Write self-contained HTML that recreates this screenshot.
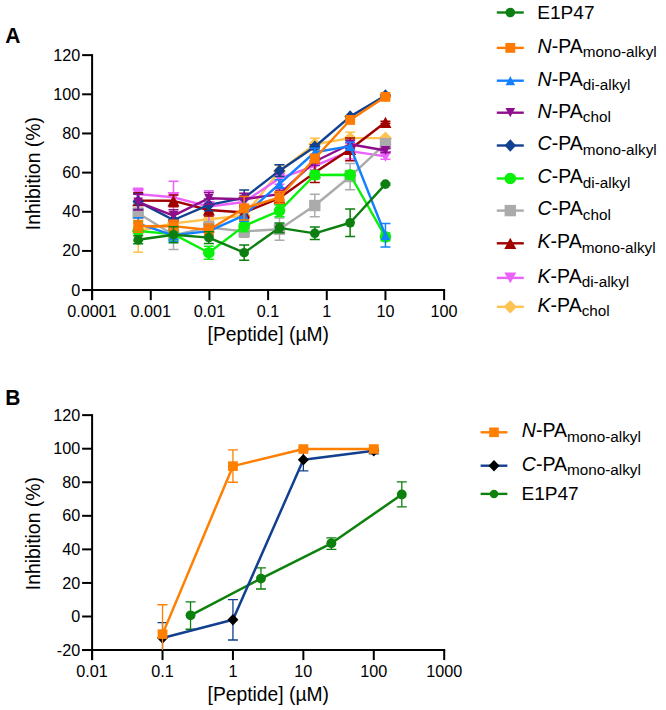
<!DOCTYPE html>
<html><head><meta charset="utf-8"><style>
html,body{margin:0;padding:0;background:#fff;}
body{width:666px;height:710px;position:relative;overflow:hidden;font-family:"Liberation Sans", sans-serif;}
</style></head><body>
<svg width="666" height="710" viewBox="0 0 666 710" style="position:absolute;left:0;top:0">
<rect width="666" height="710" fill="#fff"/>
<g stroke="#000" stroke-width="2" fill="none" stroke-linecap="butt">
<line x1="92.1" y1="54.140000000000015" x2="92.1" y2="300.1"/>
<line x1="82.1" y1="290.1" x2="445.12" y2="290.1"/>
<line x1="82.1" y1="290.10" x2="92.1" y2="290.10"/>
<line x1="82.1" y1="250.94" x2="92.1" y2="250.94"/>
<line x1="82.1" y1="211.78" x2="92.1" y2="211.78"/>
<line x1="82.1" y1="172.62" x2="92.1" y2="172.62"/>
<line x1="82.1" y1="133.46" x2="92.1" y2="133.46"/>
<line x1="82.1" y1="94.30" x2="92.1" y2="94.30"/>
<line x1="82.1" y1="55.14" x2="92.1" y2="55.14"/>
<line x1="92.10" y1="290.1" x2="92.10" y2="300.1"/>
<line x1="150.77" y1="290.1" x2="150.77" y2="300.1"/>
<line x1="209.44" y1="290.1" x2="209.44" y2="300.1"/>
<line x1="268.11" y1="290.1" x2="268.11" y2="300.1"/>
<line x1="326.78" y1="290.1" x2="326.78" y2="300.1"/>
<line x1="385.45" y1="290.1" x2="385.45" y2="300.1"/>
<line x1="444.12" y1="290.1" x2="444.12" y2="300.1"/>
</g>
<g font-family='"Liberation Sans", sans-serif' font-size="16.2" fill="#000">
<text x="80.2" y="295.50" text-anchor="end">0</text>
<text x="80.2" y="256.34" text-anchor="end">20</text>
<text x="80.2" y="217.18" text-anchor="end">40</text>
<text x="80.2" y="178.02" text-anchor="end">60</text>
<text x="80.2" y="138.86" text-anchor="end">80</text>
<text x="80.2" y="99.70" text-anchor="end">100</text>
<text x="80.2" y="60.54" text-anchor="end">120</text>
<text x="92.10" y="316.6" text-anchor="middle">0.0001</text>
<text x="150.77" y="316.6" text-anchor="middle">0.001</text>
<text x="209.44" y="316.6" text-anchor="middle">0.01</text>
<text x="268.11" y="316.6" text-anchor="middle">0.1</text>
<text x="326.78" y="316.6" text-anchor="middle">1</text>
<text x="385.45" y="316.6" text-anchor="middle">10</text>
<text x="444.12" y="316.6" text-anchor="middle">100</text>
</g>
<g stroke="#000" stroke-width="2" fill="none" stroke-linecap="butt">
<line x1="92.1" y1="414.14" x2="92.1" y2="660.06"/>
<line x1="82.1" y1="650.06" x2="445.20000000000005" y2="650.06"/>
<line x1="82.1" y1="650.06" x2="92.1" y2="650.06"/>
<line x1="82.1" y1="616.50" x2="92.1" y2="616.50"/>
<line x1="82.1" y1="582.94" x2="92.1" y2="582.94"/>
<line x1="82.1" y1="549.38" x2="92.1" y2="549.38"/>
<line x1="82.1" y1="515.82" x2="92.1" y2="515.82"/>
<line x1="82.1" y1="482.26" x2="92.1" y2="482.26"/>
<line x1="82.1" y1="448.70" x2="92.1" y2="448.70"/>
<line x1="82.1" y1="415.14" x2="92.1" y2="415.14"/>
<line x1="92.10" y1="650.06" x2="92.10" y2="660.06"/>
<line x1="162.52" y1="650.06" x2="162.52" y2="660.06"/>
<line x1="232.94" y1="650.06" x2="232.94" y2="660.06"/>
<line x1="303.36" y1="650.06" x2="303.36" y2="660.06"/>
<line x1="373.78" y1="650.06" x2="373.78" y2="660.06"/>
<line x1="444.20" y1="650.06" x2="444.20" y2="660.06"/>
</g>
<g font-family='"Liberation Sans", sans-serif' font-size="16.2" fill="#000">
<text x="80.2" y="655.66" text-anchor="end">-20</text>
<text x="80.2" y="622.10" text-anchor="end">0</text>
<text x="80.2" y="588.54" text-anchor="end">20</text>
<text x="80.2" y="554.98" text-anchor="end">40</text>
<text x="80.2" y="521.42" text-anchor="end">60</text>
<text x="80.2" y="487.86" text-anchor="end">80</text>
<text x="80.2" y="454.30" text-anchor="end">100</text>
<text x="80.2" y="420.74" text-anchor="end">120</text>
<text x="92.10" y="677.3" text-anchor="middle">0.01</text>
<text x="162.52" y="677.3" text-anchor="middle">0.1</text>
<text x="232.94" y="677.3" text-anchor="middle">1</text>
<text x="303.36" y="677.3" text-anchor="middle">10</text>
<text x="373.78" y="677.3" text-anchor="middle">100</text>
<text x="444.20" y="677.3" text-anchor="middle">1000</text>
</g>
<text transform="translate(5.2,42.7) scale(1,1.06)" font-family='"Liberation Sans", sans-serif' font-weight="bold" font-size="21">A</text>
<text transform="translate(5.2,404.7) scale(1,1.04)" font-family='"Liberation Sans", sans-serif' font-weight="bold" font-size="21">B</text>
<text transform="translate(39.8,173.6) rotate(-90)" text-anchor="middle" font-family='"Liberation Sans", sans-serif' font-size="19.4">Inhibition (%)</text>
<text transform="translate(39.8,533.6) rotate(-90)" text-anchor="middle" font-family='"Liberation Sans", sans-serif' font-size="19.4">Inhibition (%)</text>
<text x="268.3" y="340.9" text-anchor="middle" font-family='"Liberation Sans", sans-serif' font-size="19.3">[Peptide] (µM)</text>
<text x="268.3" y="700.8" text-anchor="middle" font-family='"Liberation Sans", sans-serif' font-size="19.3">[Peptide] (µM)</text>
<g>
<path d="M138.19 209.63V252.31M133.19 209.63H143.19M133.19 252.31H143.19M173.51 211.58V235.08M168.51 211.58H178.51M168.51 235.08H178.51M208.84 213.35V225.09M203.84 213.35H213.84M203.84 225.09H213.84M244.16 209.82V221.57M239.16 209.82H249.16M239.16 221.57H249.16M279.48 165.38V177.12M274.48 165.38H284.48M274.48 177.12H284.48M314.80 138.36V150.10M309.80 138.36H319.80M309.80 150.10H319.80M350.13 132.29V144.03M345.13 132.29H355.13M345.13 144.03H355.13M385.45 137.18V139.14M380.45 137.18H390.45M380.45 139.14H390.45" stroke="#fdc350" stroke-width="1.5" fill="none"/>
<polyline points="138.19,230.97 173.51,223.33 208.84,219.22 244.16,215.70 279.48,171.25 314.80,144.23 350.13,138.16 385.45,138.16" stroke="#fdc350" stroke-width="2.4" fill="none" stroke-linejoin="round"/>
<polygon points="138.19,224.32 144.84,230.97 138.19,237.62 131.54,230.97" fill="#fdc350"/>
<polygon points="173.51,216.68 180.16,223.33 173.51,229.98 166.86,223.33" fill="#fdc350"/>
<polygon points="208.84,212.57 215.49,219.22 208.84,225.87 202.19,219.22" fill="#fdc350"/>
<polygon points="244.16,209.05 250.81,215.70 244.16,222.35 237.51,215.70" fill="#fdc350"/>
<polygon points="279.48,164.60 286.13,171.25 279.48,177.90 272.83,171.25" fill="#fdc350"/>
<polygon points="314.80,137.58 321.45,144.23 314.80,150.88 308.15,144.23" fill="#fdc350"/>
<polygon points="350.13,131.51 356.78,138.16 350.13,144.81 343.48,138.16" fill="#fdc350"/>
<polygon points="385.45,131.51 392.10,138.16 385.45,144.81 378.80,138.16" fill="#fdc350"/>
</g>
<g>
<path d="M138.19 188.28V200.03M133.19 188.28H143.19M133.19 200.03H143.19M173.51 181.24V213.35M168.51 181.24H178.51M168.51 213.35H178.51M208.84 190.83V222.16M203.84 190.83H213.84M203.84 222.16H213.84M244.16 196.12V207.86M239.16 196.12H249.16M239.16 207.86H249.16M279.48 172.42V184.17M274.48 172.42H284.48M274.48 184.17H284.48M314.80 161.85V169.68M309.80 161.85H319.80M309.80 169.68H319.80M350.13 143.25V158.91M345.13 143.25H355.13M345.13 158.91H355.13M385.45 153.43V159.31M380.45 153.43H390.45M380.45 159.31H390.45" stroke="#ea62fb" stroke-width="1.5" fill="none"/>
<polyline points="138.19,194.16 173.51,197.29 208.84,206.49 244.16,201.99 279.48,178.30 314.80,165.77 350.13,151.08 385.45,156.37" stroke="#ea62fb" stroke-width="2.4" fill="none" stroke-linejoin="round"/>
<polygon points="138.19,199.56 144.19,188.76 132.19,188.76" fill="#ea62fb"/>
<polygon points="173.51,202.69 179.51,191.89 167.51,191.89" fill="#ea62fb"/>
<polygon points="208.84,211.89 214.84,201.09 202.84,201.09" fill="#ea62fb"/>
<polygon points="244.16,207.39 250.16,196.59 238.16,196.59" fill="#ea62fb"/>
<polygon points="279.48,183.70 285.48,172.90 273.48,172.90" fill="#ea62fb"/>
<polygon points="314.80,171.17 320.80,160.37 308.80,160.37" fill="#ea62fb"/>
<polygon points="350.13,156.48 356.13,145.68 344.13,145.68" fill="#ea62fb"/>
<polygon points="385.45,161.77 391.45,150.97 379.45,150.97" fill="#ea62fb"/>
</g>
<g>
<path d="M138.19 192.79V208.45M133.19 192.79H143.19M133.19 208.45H143.19M173.51 194.94V206.69M168.51 194.94H178.51M168.51 206.69H178.51M208.84 204.14V215.89M203.84 204.14H213.84M203.84 215.89H213.84M244.16 206.69V218.44M239.16 206.69H249.16M239.16 218.44H249.16M279.48 192.20V203.95M274.48 192.20H284.48M274.48 203.95H284.48M314.80 162.83V182.41M309.80 162.83H319.80M309.80 182.41H319.80M350.13 137.96V160.68M345.13 137.96H355.13M345.13 160.68H355.13M385.45 121.32V123.28M380.45 121.32H390.45M380.45 123.28H390.45" stroke="#a00000" stroke-width="1.5" fill="none"/>
<polyline points="138.19,200.62 173.51,200.82 208.84,210.02 244.16,212.56 279.48,198.07 314.80,172.62 350.13,149.32 385.45,122.30" stroke="#a00000" stroke-width="2.4" fill="none" stroke-linejoin="round"/>
<polygon points="138.19,195.02 144.19,206.22 132.19,206.22" fill="#a00000"/>
<polygon points="173.51,195.22 179.51,206.42 167.51,206.42" fill="#a00000"/>
<polygon points="208.84,204.42 214.84,215.62 202.84,215.62" fill="#a00000"/>
<polygon points="244.16,206.96 250.16,218.16 238.16,218.16" fill="#a00000"/>
<polygon points="279.48,192.47 285.48,203.67 273.48,203.67" fill="#a00000"/>
<polygon points="314.80,167.02 320.80,178.22 308.80,178.22" fill="#a00000"/>
<polygon points="350.13,143.72 356.13,154.92 344.13,154.92" fill="#a00000"/>
<polygon points="385.45,116.70 391.45,127.90 379.45,127.90" fill="#a00000"/>
</g>
<g>
<path d="M138.19 203.56V223.14M133.19 203.56H143.19M133.19 223.14H143.19M173.51 220.59V249.57M168.51 220.59H178.51M168.51 249.57H178.51M208.84 221.57V233.32M203.84 221.57H213.84M203.84 233.32H213.84M244.16 225.49V237.23M239.16 225.49H249.16M239.16 237.23H249.16M279.48 218.05V240.37M274.48 218.05H284.48M274.48 240.37H284.48M314.80 194.16V216.87M309.80 194.16H319.80M309.80 216.87H319.80M350.13 163.42V189.65M345.13 163.42H355.13M345.13 189.65H355.13M385.45 140.70V146.58M380.45 140.70H390.45M380.45 146.58H390.45" stroke="#ababab" stroke-width="1.5" fill="none"/>
<polyline points="138.19,213.35 173.51,235.08 208.84,227.44 244.16,231.36 279.48,229.21 314.80,205.51 350.13,176.54 385.45,143.64" stroke="#ababab" stroke-width="2.4" fill="none" stroke-linejoin="round"/>
<rect x="132.49" y="207.65" width="11.40" height="11.40" fill="#ababab"/>
<rect x="167.81" y="229.38" width="11.40" height="11.40" fill="#ababab"/>
<rect x="203.14" y="221.74" width="11.40" height="11.40" fill="#ababab"/>
<rect x="238.46" y="225.66" width="11.40" height="11.40" fill="#ababab"/>
<rect x="273.78" y="223.51" width="11.40" height="11.40" fill="#ababab"/>
<rect x="309.10" y="199.81" width="11.40" height="11.40" fill="#ababab"/>
<rect x="344.43" y="170.84" width="11.40" height="11.40" fill="#ababab"/>
<rect x="379.75" y="137.94" width="11.40" height="11.40" fill="#ababab"/>
</g>
<g>
<path d="M138.19 221.18V240.76M133.19 221.18H143.19M133.19 240.76H143.19M173.51 228.23V239.98M168.51 228.23H178.51M168.51 239.98H178.51M208.84 246.24V259.16M203.84 246.24H213.84M203.84 259.16H213.84M244.16 220.00V231.75M239.16 220.00H249.16M239.16 231.75H249.16M279.48 204.93V216.68M274.48 204.93H284.48M274.48 216.68H284.48M314.80 171.05V178.89M309.80 171.05H319.80M309.80 178.89H319.80M350.13 170.86V178.69M345.13 170.86H355.13M345.13 178.69H355.13M385.45 232.93V240.76M380.45 232.93H390.45M380.45 240.76H390.45" stroke="#0af00a" stroke-width="1.5" fill="none"/>
<polyline points="138.19,230.97 173.51,234.10 208.84,252.70 244.16,225.88 279.48,210.80 314.80,174.97 350.13,174.77 385.45,236.84" stroke="#0af00a" stroke-width="2.4" fill="none" stroke-linejoin="round"/>
<ellipse cx="138.19" cy="230.97" rx="5.80" ry="5.80" fill="#0af00a"/>
<ellipse cx="173.51" cy="234.10" rx="5.80" ry="5.80" fill="#0af00a"/>
<ellipse cx="208.84" cy="252.70" rx="5.80" ry="5.80" fill="#0af00a"/>
<ellipse cx="244.16" cy="225.88" rx="5.80" ry="5.80" fill="#0af00a"/>
<ellipse cx="279.48" cy="210.80" rx="5.80" ry="5.80" fill="#0af00a"/>
<ellipse cx="314.80" cy="174.97" rx="5.80" ry="5.80" fill="#0af00a"/>
<ellipse cx="350.13" cy="174.77" rx="5.80" ry="5.80" fill="#0af00a"/>
<ellipse cx="385.45" cy="236.84" rx="5.80" ry="5.80" fill="#0af00a"/>
</g>
<g>
<path d="M138.19 193.77V209.43M133.19 193.77H143.19M133.19 209.43H143.19M173.51 214.13V225.88M168.51 214.13H178.51M168.51 225.88H178.51M208.84 199.05V210.80M203.84 199.05H213.84M203.84 210.80H213.84M244.16 190.05V205.71M239.16 190.05H249.16M239.16 205.71H249.16M279.48 164.79V176.54M274.48 164.79H284.48M274.48 176.54H284.48M314.80 144.82V148.73M309.80 144.82H319.80M309.80 148.73H319.80M350.13 115.64V117.60M345.13 115.64H355.13M345.13 117.60H355.13M385.45 94.50V96.45M380.45 94.50H390.45M380.45 96.45H390.45" stroke="#11418f" stroke-width="1.5" fill="none"/>
<polyline points="138.19,201.60 173.51,220.00 208.84,204.93 244.16,197.88 279.48,170.66 314.80,146.77 350.13,116.62 385.45,95.47" stroke="#11418f" stroke-width="2.4" fill="none" stroke-linejoin="round"/>
<polygon points="138.19,195.35 143.94,201.60 138.19,207.85 132.44,201.60" fill="#11418f"/>
<polygon points="173.51,213.75 179.26,220.00 173.51,226.25 167.76,220.00" fill="#11418f"/>
<polygon points="208.84,198.68 214.59,204.93 208.84,211.18 203.09,204.93" fill="#11418f"/>
<polygon points="244.16,191.63 249.91,197.88 244.16,204.13 238.41,197.88" fill="#11418f"/>
<polygon points="279.48,164.41 285.23,170.66 279.48,176.91 273.73,170.66" fill="#11418f"/>
<polygon points="314.80,140.52 320.55,146.77 314.80,153.02 309.05,146.77" fill="#11418f"/>
<polygon points="350.13,110.37 355.88,116.62 350.13,122.87 344.38,116.62" fill="#11418f"/>
<polygon points="385.45,89.22 391.20,95.47 385.45,101.72 379.70,95.47" fill="#11418f"/>
</g>
<g>
<path d="M138.19 194.35V210.02M133.19 194.35H143.19M133.19 210.02H143.19M173.51 209.82V221.57M168.51 209.82H178.51M168.51 221.57H178.51M208.84 192.40V204.14M203.84 192.40H213.84M203.84 204.14H213.84M244.16 193.37V205.12M239.16 193.37H249.16M239.16 205.12H249.16M279.48 188.28V200.03M274.48 188.28H284.48M274.48 200.03H284.48M314.80 157.54V165.38M309.80 157.54H319.80M309.80 165.38H319.80M350.13 140.31V148.15M345.13 140.31H355.13M345.13 148.15H355.13M385.45 148.54V152.45M380.45 148.54H390.45M380.45 152.45H390.45" stroke="#8e0e8e" stroke-width="1.5" fill="none"/>
<polyline points="138.19,202.19 173.51,215.70 208.84,198.27 244.16,199.25 279.48,194.16 314.80,161.46 350.13,144.23 385.45,150.49" stroke="#8e0e8e" stroke-width="2.4" fill="none" stroke-linejoin="round"/>
<polygon points="138.19,206.79 142.99,197.59 133.39,197.59" fill="#8e0e8e"/>
<polygon points="173.51,220.30 178.31,211.10 168.71,211.10" fill="#8e0e8e"/>
<polygon points="208.84,202.87 213.64,193.67 204.04,193.67" fill="#8e0e8e"/>
<polygon points="244.16,203.85 248.96,194.65 239.36,194.65" fill="#8e0e8e"/>
<polygon points="279.48,198.76 284.28,189.56 274.68,189.56" fill="#8e0e8e"/>
<polygon points="314.80,166.06 319.60,156.86 310.00,156.86" fill="#8e0e8e"/>
<polygon points="350.13,148.83 354.93,139.63 345.33,139.63" fill="#8e0e8e"/>
<polygon points="385.45,155.09 390.25,145.89 380.65,145.89" fill="#8e0e8e"/>
</g>
<g>
<path d="M138.19 217.85V229.60M133.19 217.85H143.19M133.19 229.60H143.19M173.51 229.40V241.15M168.51 229.40H178.51M168.51 241.15H178.51M208.84 225.29V237.04M203.84 225.29H213.84M203.84 237.04H213.84M244.16 209.43V221.18M239.16 209.43H249.16M239.16 221.18H249.16M279.48 179.86V187.70M274.48 179.86H284.48M274.48 187.70H284.48M314.80 148.34V156.17M309.80 148.34H319.80M309.80 156.17H319.80M350.13 142.27V150.10M345.13 142.27H355.13M345.13 150.10H355.13M385.45 223.53V247.02M380.45 223.53H390.45M380.45 247.02H390.45" stroke="#1480ff" stroke-width="1.5" fill="none"/>
<polyline points="138.19,223.72 173.51,235.28 208.84,231.16 244.16,215.30 279.48,183.78 314.80,152.26 350.13,146.19 385.45,235.28" stroke="#1480ff" stroke-width="2.4" fill="none" stroke-linejoin="round"/>
<polygon points="138.19,219.07 142.99,228.37 133.39,228.37" fill="#1480ff"/>
<polygon points="173.51,230.63 178.31,239.93 168.71,239.93" fill="#1480ff"/>
<polygon points="208.84,226.51 213.64,235.81 204.04,235.81" fill="#1480ff"/>
<polygon points="244.16,210.65 248.96,219.95 239.36,219.95" fill="#1480ff"/>
<polygon points="279.48,179.13 284.28,188.43 274.68,188.43" fill="#1480ff"/>
<polygon points="314.80,147.61 319.60,156.91 310.00,156.91" fill="#1480ff"/>
<polygon points="350.13,141.54 354.93,150.84 345.33,150.84" fill="#1480ff"/>
<polygon points="385.45,230.63 390.25,239.93 380.65,239.93" fill="#1480ff"/>
</g>
<g>
<path d="M138.19 220.40V232.14M133.19 220.40H143.19M133.19 232.14H143.19M173.51 220.20V231.95M168.51 220.20H178.51M168.51 231.95H178.51M208.84 224.12V235.86M203.84 224.12H213.84M203.84 235.86H213.84M244.16 196.51V220.00M239.16 196.51H249.16M239.16 220.00H249.16M279.48 191.42V203.16M274.48 191.42H284.48M274.48 203.16H284.48M314.80 154.61V162.44M309.80 154.61H319.80M309.80 162.44H319.80M350.13 117.99V121.91M345.13 117.99H355.13M345.13 121.91H355.13M385.45 95.87V97.82M380.45 95.87H390.45M380.45 97.82H390.45" stroke="#ff7a00" stroke-width="1.5" fill="none"/>
<polyline points="138.19,226.27 173.51,226.07 208.84,229.99 244.16,208.26 279.48,197.29 314.80,158.52 350.13,119.95 385.45,96.85" stroke="#ff7a00" stroke-width="2.4" fill="none" stroke-linejoin="round"/>
<rect x="133.29" y="221.37" width="9.80" height="9.80" fill="#ff7a00"/>
<rect x="168.61" y="221.17" width="9.80" height="9.80" fill="#ff7a00"/>
<rect x="203.94" y="225.09" width="9.80" height="9.80" fill="#ff7a00"/>
<rect x="239.26" y="203.36" width="9.80" height="9.80" fill="#ff7a00"/>
<rect x="274.58" y="192.39" width="9.80" height="9.80" fill="#ff7a00"/>
<rect x="309.90" y="153.62" width="9.80" height="9.80" fill="#ff7a00"/>
<rect x="345.23" y="115.05" width="9.80" height="9.80" fill="#ff7a00"/>
<rect x="380.55" y="91.95" width="9.80" height="9.80" fill="#ff7a00"/>
</g>
<g>
<path d="M138.19 235.86V243.70M133.19 235.86H143.19M133.19 243.70H143.19M173.51 226.66V242.72M168.51 226.66H178.51M168.51 242.72H178.51M208.84 231.75V243.50M203.84 231.75H213.84M203.84 243.50H213.84M244.16 245.07V260.34M239.16 245.07H249.16M239.16 260.34H249.16M279.48 222.94V232.73M274.48 222.94H284.48M274.48 232.73H284.48M314.80 227.05V239.58M309.80 227.05H319.80M309.80 239.58H319.80M350.13 209.04V236.45M345.13 209.04H355.13M345.13 236.45H355.13M385.45 183.19V185.15M380.45 183.19H390.45M380.45 185.15H390.45" stroke="#0d7f10" stroke-width="1.5" fill="none"/>
<polyline points="138.19,239.78 173.51,234.69 208.84,237.63 244.16,252.70 279.48,227.84 314.80,233.32 350.13,222.74 385.45,184.17" stroke="#0d7f10" stroke-width="2.4" fill="none" stroke-linejoin="round"/>
<ellipse cx="138.19" cy="239.78" rx="4.80" ry="4.80" fill="#0d7f10"/>
<ellipse cx="173.51" cy="234.69" rx="4.80" ry="4.80" fill="#0d7f10"/>
<ellipse cx="208.84" cy="237.63" rx="4.80" ry="4.80" fill="#0d7f10"/>
<ellipse cx="244.16" cy="252.70" rx="4.80" ry="4.80" fill="#0d7f10"/>
<ellipse cx="279.48" cy="227.84" rx="4.80" ry="4.80" fill="#0d7f10"/>
<ellipse cx="314.80" cy="233.32" rx="4.80" ry="4.80" fill="#0d7f10"/>
<ellipse cx="350.13" cy="222.74" rx="4.80" ry="4.80" fill="#0d7f10"/>
<ellipse cx="385.45" cy="184.17" rx="4.80" ry="4.80" fill="#0d7f10"/>
</g>
<defs><clipPath id="cb"><rect x="0" y="0" width="666" height="650.06"/></clipPath></defs>
<g clip-path="url(#cb)">
<path d="M190.54 601.90V629.25M185.54 601.90H195.54M185.54 629.25H195.54M260.96 567.84V588.98M255.96 567.84H265.96M255.96 588.98H265.96M331.38 537.97V549.38M326.38 537.97H336.38M326.38 549.38H336.38M401.80 481.92V506.93M396.80 481.92H406.80M396.80 506.93H406.80" stroke="#0e800e" stroke-width="1.3" fill="none"/>
<polyline points="190.54,615.33 260.96,578.58 331.38,543.34 401.80,494.51" stroke="#0e800e" stroke-width="2.5" fill="none" stroke-linejoin="round"/>
<ellipse cx="190.54" cy="615.33" rx="4.95" ry="4.95" fill="#0e800e"/>
<ellipse cx="260.96" cy="578.58" rx="4.95" ry="4.95" fill="#0e800e"/>
<ellipse cx="331.38" cy="543.34" rx="4.95" ry="4.95" fill="#0e800e"/>
<ellipse cx="401.80" cy="494.51" rx="4.95" ry="4.95" fill="#0e800e"/>
</g>
<g clip-path="url(#cb)">
<path d="M162.52 622.54V653.42M157.52 622.54H167.52M157.52 653.42H167.52M232.94 599.55V639.99M227.94 599.55H237.94M227.94 639.99H237.94M303.36 450.38V470.85M298.36 450.38H308.36M298.36 470.85H308.36M373.78 448.70V453.73M368.78 448.70H378.78M368.78 453.73H378.78" stroke="#123f8f" stroke-width="1.3" fill="none"/>
<polyline points="162.52,637.98 232.94,619.69 303.36,459.77 373.78,450.71" stroke="#123f8f" stroke-width="2.5" fill="none" stroke-linejoin="round"/>
<polygon points="162.52,632.23 168.02,637.98 162.52,643.73 157.02,637.98" fill="#000000"/>
<polygon points="232.94,613.94 238.44,619.69 232.94,625.44 227.44,619.69" fill="#000000"/>
<polygon points="303.36,454.02 308.86,459.77 303.36,465.52 297.86,459.77" fill="#000000"/>
<polygon points="373.78,444.96 379.28,450.71 373.78,456.46 368.28,450.71" fill="#000000"/>
</g>
<g clip-path="url(#cb)">
<path d="M162.52 604.75V663.48M157.52 604.75H167.52M157.52 663.48H167.52M232.94 449.87V482.26M227.94 449.87H237.94M227.94 482.26H237.94M303.36 447.86V449.54M298.36 447.86H308.36M298.36 449.54H308.36M373.78 447.86V449.54M368.78 447.86H378.78M368.78 449.54H378.78" stroke="#ff7f00" stroke-width="1.3" fill="none"/>
<polyline points="162.52,634.12 232.94,466.15 303.36,449.04 373.78,449.04" stroke="#ff7f00" stroke-width="2.5" fill="none" stroke-linejoin="round"/>
<rect x="157.62" y="629.32" width="9.80" height="9.60" fill="#ff7f00"/>
<rect x="228.04" y="461.35" width="9.80" height="9.60" fill="#ff7f00"/>
<rect x="298.46" y="444.24" width="9.80" height="9.60" fill="#ff7f00"/>
<rect x="368.88" y="444.24" width="9.80" height="9.60" fill="#ff7f00"/>
</g>
<line x1="496.8" y1="12.5" x2="523.8" y2="12.5" stroke="#0d7f10" stroke-width="2.4"/>
<ellipse cx="510.30" cy="12.50" rx="4.80" ry="4.80" fill="#0d7f10"/>
<text x="537.2" y="18.70" font-family='"Liberation Sans", sans-serif' font-size="19.1">E1P47</text>
<line x1="496.8" y1="47.9" x2="523.8" y2="47.9" stroke="#ff7a00" stroke-width="2.4"/>
<rect x="505.40" y="43.00" width="9.80" height="9.80" fill="#ff7a00"/>
<text x="537.6" y="52.70" font-family='"Liberation Sans", sans-serif' font-size="19.5"><tspan font-style="italic">N</tspan>-PA<tspan font-size="15.3" dy="4.75">mono-alkyl</tspan></text>
<line x1="496.8" y1="80.7" x2="523.8" y2="80.7" stroke="#1480ff" stroke-width="2.4"/>
<polygon points="510.30,76.05 515.10,85.35 505.50,85.35" fill="#1480ff"/>
<text x="537.6" y="85.50" font-family='"Liberation Sans", sans-serif' font-size="19.5"><tspan font-style="italic">N</tspan>-PA<tspan font-size="15.3" dy="4.75">di-alkyl</tspan></text>
<line x1="496.8" y1="112.7" x2="523.8" y2="112.7" stroke="#8e0e8e" stroke-width="2.4"/>
<polygon points="510.30,117.30 515.10,108.10 505.50,108.10" fill="#8e0e8e"/>
<text x="537.6" y="117.50" font-family='"Liberation Sans", sans-serif' font-size="19.5"><tspan font-style="italic">N</tspan>-PA<tspan font-size="15.3" dy="4.75">chol</tspan></text>
<line x1="496.8" y1="145.5" x2="523.8" y2="145.5" stroke="#11418f" stroke-width="2.4"/>
<polygon points="510.30,139.25 516.05,145.50 510.30,151.75 504.55,145.50" fill="#11418f"/>
<text x="537.6" y="150.30" font-family='"Liberation Sans", sans-serif' font-size="19.5"><tspan font-style="italic">C</tspan>-PA<tspan font-size="15.3" dy="4.75">mono-alkyl</tspan></text>
<line x1="496.8" y1="178.5" x2="523.8" y2="178.5" stroke="#0af00a" stroke-width="2.4"/>
<ellipse cx="510.30" cy="178.50" rx="5.80" ry="5.80" fill="#0af00a"/>
<text x="537.6" y="183.30" font-family='"Liberation Sans", sans-serif' font-size="19.5"><tspan font-style="italic">C</tspan>-PA<tspan font-size="15.3" dy="4.75">di-alkyl</tspan></text>
<line x1="496.8" y1="210.6" x2="523.8" y2="210.6" stroke="#ababab" stroke-width="2.4"/>
<rect x="504.60" y="204.90" width="11.40" height="11.40" fill="#ababab"/>
<text x="537.6" y="215.40" font-family='"Liberation Sans", sans-serif' font-size="19.5"><tspan font-style="italic">C</tspan>-PA<tspan font-size="15.3" dy="4.75">chol</tspan></text>
<line x1="496.8" y1="243.3" x2="523.8" y2="243.3" stroke="#a00000" stroke-width="2.4"/>
<polygon points="510.30,237.70 516.30,248.90 504.30,248.90" fill="#a00000"/>
<text x="537.6" y="248.10" font-family='"Liberation Sans", sans-serif' font-size="19.5"><tspan font-style="italic">K</tspan>-PA<tspan font-size="15.3" dy="4.75">mono-alkyl</tspan></text>
<line x1="496.8" y1="277.9" x2="523.8" y2="277.9" stroke="#ea62fb" stroke-width="2.4"/>
<polygon points="510.30,283.30 516.30,272.50 504.30,272.50" fill="#ea62fb"/>
<text x="537.6" y="282.70" font-family='"Liberation Sans", sans-serif' font-size="19.5"><tspan font-style="italic">K</tspan>-PA<tspan font-size="15.3" dy="4.75">di-alkyl</tspan></text>
<line x1="496.8" y1="306.8" x2="523.8" y2="306.8" stroke="#fdc350" stroke-width="2.4"/>
<polygon points="510.30,300.15 516.95,306.80 510.30,313.45 503.65,306.80" fill="#fdc350"/>
<text x="537.6" y="311.60" font-family='"Liberation Sans", sans-serif' font-size="19.5"><tspan font-style="italic">K</tspan>-PA<tspan font-size="15.3" dy="4.75">chol</tspan></text>
<line x1="480.6" y1="432.3" x2="507.4" y2="432.3" stroke="#ff7f00" stroke-width="2.4"/>
<rect x="489.20" y="427.50" width="9.60" height="9.60" fill="#ff7f00"/>
<text x="521.8" y="437.10" font-family='"Liberation Sans", sans-serif' font-size="19.5"><tspan font-style="italic">N</tspan>-PA<tspan font-size="15.3" dy="4.75">mono-alkyl</tspan></text>
<line x1="480.6" y1="465.7" x2="507.4" y2="465.7" stroke="#123f8f" stroke-width="2.4"/>
<polygon points="494.00,459.95 499.50,465.70 494.00,471.45 488.50,465.70" fill="#000"/>
<text x="521.8" y="470.50" font-family='"Liberation Sans", sans-serif' font-size="19.5"><tspan font-style="italic">C</tspan>-PA<tspan font-size="15.3" dy="4.75">mono-alkyl</tspan></text>
<line x1="480.6" y1="493.9" x2="507.4" y2="493.9" stroke="#0e800e" stroke-width="2.4"/>
<ellipse cx="494.00" cy="493.90" rx="4.25" ry="4.25" fill="#0e800e"/>
<text x="521.4" y="500.10" font-family='"Liberation Sans", sans-serif' font-size="19.1">E1P47</text>
</svg>
</body></html>
